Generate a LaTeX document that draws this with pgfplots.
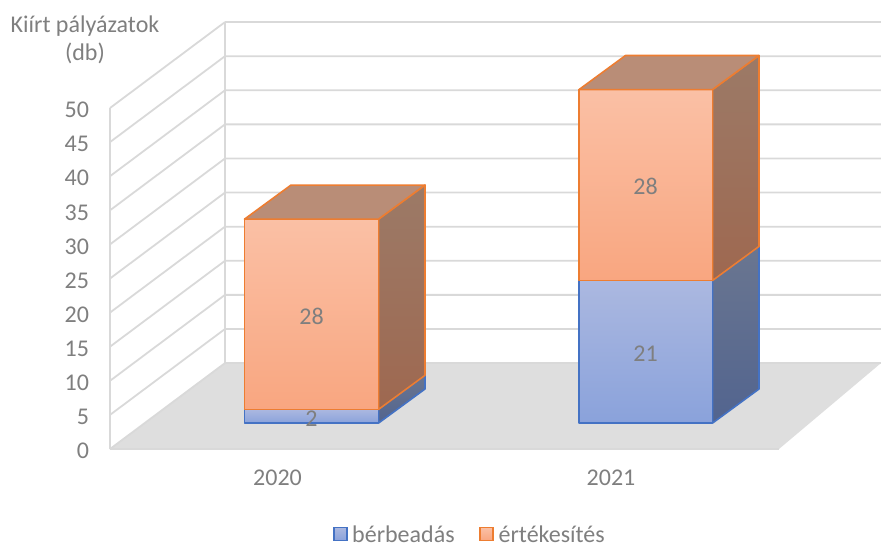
\documentclass[border=0pt]{standalone}
\usepackage{fontspec}
\setmainfont{Carlito}
\usepackage{pgfplots}
\pgfplotsset{compat=1.18}
\definecolor{txt}{HTML}{7F7F7F}
\definecolor{gridc}{HTML}{D9D9D9}
\definecolor{floorc}{HTML}{DEDEDE}
\definecolor{bl}{HTML}{4472C4}
\definecolor{or}{HTML}{ED7D31}
\definecolor{blT}{HTML}{ABB8E0}
\definecolor{blB}{HTML}{8AA2DB}
\definecolor{orT}{HTML}{FAC0A5}
\definecolor{orB}{HTML}{F9A680}
\definecolor{bsT}{HTML}{6A7690}
\definecolor{bsB}{HTML}{52648F}
\definecolor{osT}{HTML}{9C7A67}
\definecolor{osB}{HTML}{9E6850}
\definecolor{otop}{HTML}{B98D77}
\newcommand{\lf}{\fontsize{24}{28}\selectfont}
\pgfplotsset{
  bfront/.style={forget plot,draw=bl,line width=1.6pt,top color=blT,bottom color=blB,line join=round},
  bside/.style={forget plot,draw=bl,line width=1.6pt,top color=bsT,bottom color=bsB,line join=round},
  ofront/.style={forget plot,draw=or,line width=1.6pt,top color=orT,bottom color=orB,line join=round},
  oside/.style={forget plot,draw=or,line width=1.6pt,top color=osT,bottom color=osB,line join=round},
  otopf/.style={forget plot,draw=or,line width=1.6pt,fill=otop,line join=round},
}
\begin{document}
\begin{tikzpicture}[x=1pt,y=1pt]
\path[use as bounding box] (0,0) rectangle (881,542);
\begin{axis}[
  at={(110pt,93pt)},anchor=south west,
  scale only axis,width=771pt,height=429.66pt,
  xmin=110,xmax=881,ymin=0,ymax=63,
  clip=false,
  axis line style={draw=none},
  major tick length=0pt,
  unbounded coords=jump,
  /pgf/number format/assume math mode=true,
  xtick={277.5,611},xticklabels={2020,2021},
  ytick={0,5,...,50},
  tick label style={font=\lf,text=txt},
  yticklabel style={xshift=-17.5pt,yshift=-2pt},
  xticklabel style={yshift=-17pt},
  legend style={at={(0.4656,-0.2)},anchor=center,draw=none,fill=none,legend columns=2,
    font=\lf,text=txt,
    /tikz/every even column/.style={column sep=21pt},
    inner sep=0pt},
  legend cell align=left,
  legend image code/.code={\path[#1] (2.5pt,-5.5pt) rectangle (15.5pt,7.5pt);\path[draw=none,fill=none] (0pt,0pt) -- (19pt,0pt);},
]
% floor
\addplot[forget plot,draw=none,fill=floorc] coordinates {(110,0)(225,12.6)(881,12.6)(779,0)} -- cycle;
% walls
\addplot[forget plot,draw=gridc,line width=1.8pt] coordinates {
 (225,12.6)(881,12.6)(881,nan)
 (225,17.6)(881,17.6)(881,nan)
 (225,22.6)(881,22.6)(881,nan)
 (225,27.6)(881,27.6)(881,nan)
 (225,32.6)(881,32.6)(881,nan)
 (225,37.6)(881,37.6)(881,nan)
 (225,42.6)(881,42.6)(881,nan)
 (225,47.6)(881,47.6)(881,nan)
 (225,52.6)(881,52.6)(881,nan)
 (225,57.6)(881,57.6)(881,nan)
 (225,62.6)(881,62.6)(881,nan)
 (110,0)(110,50)(110,nan)
 (225,12.6)(225,62.6)(225,nan)
 (110,5)(225,17.6)(225,nan)
 (110,10)(225,22.6)(225,nan)
 (110,15)(225,27.6)(225,nan)
 (110,20)(225,32.6)(225,nan)
 (110,25)(225,37.6)(225,nan)
 (110,30)(225,42.6)(225,nan)
 (110,35)(225,47.6)(225,nan)
 (110,40)(225,52.6)(225,nan)
 (110,45)(225,57.6)(225,nan)
 (110,50)(225,62.6)
};
\addplot[forget plot,draw=gridc,line width=1.8pt] coordinates {(110,0)(225,12.6)};
\addplot[forget plot,draw=gridc,line width=1.8pt] coordinates {(110,0)(779,0)};
% 2020
\addplot[bside] coordinates {(378.5,3.8)(425,8.8)(425,10.8)(378.5,5.8)} -- cycle;
\addplot[bfront] coordinates {(244.5,3.8)(378.5,3.8)(378.5,5.8)(244.5,5.8)} -- cycle;
\addplot[oside] coordinates {(378.5,5.8)(425,10.8)(425,38.7)(378.5,33.7)} -- cycle;
\addplot[ofront] coordinates {(244.5,5.8)(378.5,5.8)(378.5,33.7)(244.5,33.7)} -- cycle;
\addplot[otopf] coordinates {(244.5,33.7)(291,38.7)(425,38.7)(378.5,33.7)} -- cycle;
% 2021
\addplot[bside] coordinates {(712.5,3.8)(759,8.8)(759,29.7)(712.5,24.7)} -- cycle;
\addplot[bfront] coordinates {(579,3.8)(712.5,3.8)(712.5,24.7)(579,24.7)} -- cycle;
\addplot[oside] coordinates {(712.5,24.7)(759,29.7)(759,57.7)(712.5,52.7)} -- cycle;
\addplot[ofront] coordinates {(579,24.7)(712.5,24.7)(712.5,52.7)(579,52.7)} -- cycle;
\addplot[otopf] coordinates {(579,52.7)(625.5,57.7)(759,57.7)(712.5,52.7)} -- cycle;
% labels
\node[text=txt,font=\lf] at (axis cs:311.5,19.5) {28};
\node[text=txt,font=\lf] at (axis cs:311.5,4.4) {2};
\node[text=txt,font=\lf] at (axis cs:645.5,38.5) {28};
\node[text=txt,font=\lf] at (axis cs:645.5,14) {21};
% legend
\addlegendimage{draw=bl,line width=1.6pt,top color=blT,bottom color=blB}
\addlegendentry{bérbeadás}
\addlegendimage{draw=or,line width=1.6pt,top color=orT,bottom color=orB}
\addlegendentry{értékesítés}
\end{axis}
\node[text=txt,font=\lf,align=center] at (85,502) {Kiírt pályázatok\\(db)};
\end{tikzpicture}
\end{document}
